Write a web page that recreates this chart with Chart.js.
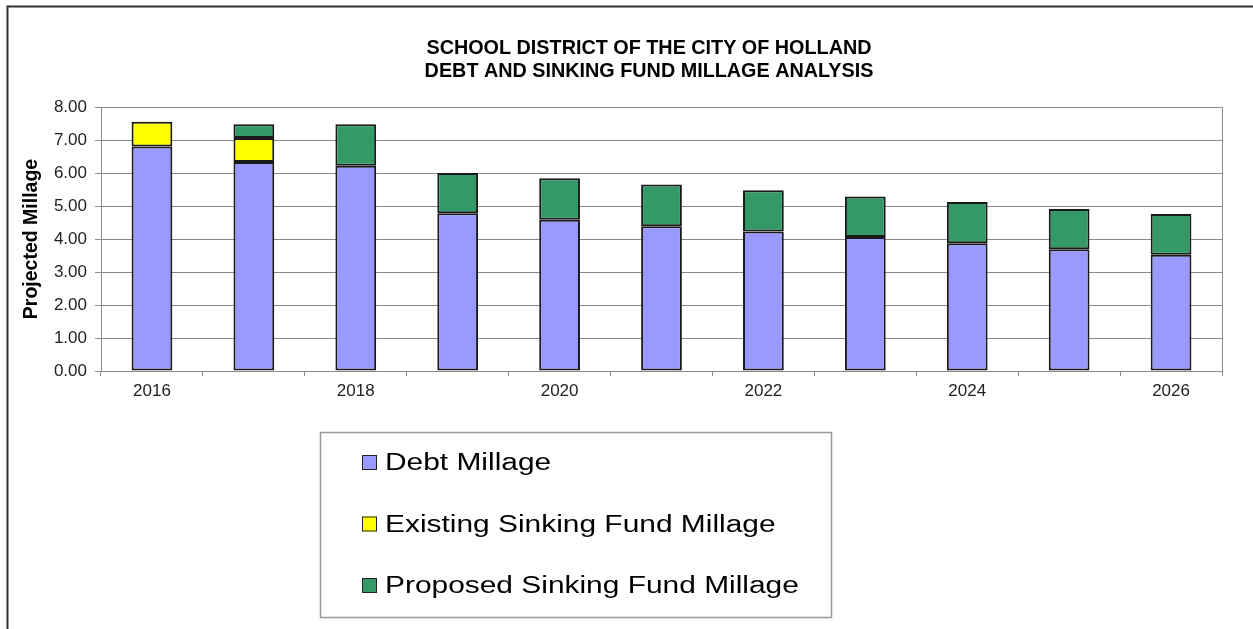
<!DOCTYPE html>
<html>
<head>
<meta charset="utf-8">
<title>Debt and Sinking Fund Millage Analysis</title>
<script src="https://cdn.jsdelivr.net/npm/chart.js@4/dist/chart.umd.min.js"></script>
<style>
  html, body { margin: 0; padding: 0; background: #fff; }
  canvas { display: block; }
</style>
</head>
<body>
<canvas id="myChart" width="1253" height="629"></canvas>
<script>
const years = ['2016', '2017', '2018', '2019', '2020', '2021', '2022', '2023', '2024', '2025', '2026']
const debtMillage = [6.80, 6.33, 6.22, 4.78, 4.58, 4.39, 4.23, 4.06, 3.87, 3.69, 3.52]
const existingSinking = [0.75, 0.73, null, null, null, null, null, null, null, null, null]
const proposedSinking = [null, 0.42, 1.26, 1.22, 1.26, 1.26, 1.25, 1.23, 1.25, 1.22, 1.24]
const yTicks = [0, 1, 2, 3, 4, 5, 6, 7, 8]
const titleLines = ['SCHOOL DISTRICT OF THE CITY OF HOLLAND', 'DEBT AND SINKING FUND MILLAGE ANALYSIS']

;(() => {
  'use strict'

  const gridGray = '#8a8a8a'

  // frame, heading, right edge of the plot and the boxed legend
  const decor = {
    id: 'decor',
    beforeDraw (chart) {
      const c = chart.ctx
      c.save()
      c.fillStyle = '#fff'
      c.fillRect(0, 0, chart.width, chart.height)
      c.restore()
    },
    afterDraw (chart) {
      const c = chart.ctx
      const area = chart.chartArea
      c.save()

      c.strokeStyle = '#333'
      c.lineWidth = 2
      c.beginPath()
      c.moveTo(7.5, chart.height)
      c.lineTo(7.5, 6.5)
      c.lineTo(chart.width, 6.5)
      c.stroke()

      c.strokeStyle = gridGray
      c.lineWidth = 1
      c.beginPath()
      c.moveTo(area.right + 0.5, area.top)
      c.lineTo(area.right + 0.5, area.bottom)
      c.stroke()

      c.fillStyle = '#000'
      c.font = 'bold 19.8px "Liberation Sans", Arial, sans-serif'
      c.textAlign = 'center'
      c.textBaseline = 'middle'
      titleLines.forEach((t, i) => c.fillText(t, 649, 49 + i * 23))

      // legend
      c.strokeStyle = '#999'
      c.lineWidth = 1.5
      c.strokeRect(320.5, 432.5, 511, 185)
      chart.data.datasets.forEach((ds, i) => {
        const cy = 463 + i * 61.5
        c.fillStyle = ds.backgroundColor
        c.fillRect(362, cy - 8, 15, 15)
        c.strokeStyle = '#222'
        c.lineWidth = 1
        c.strokeRect(362.5, cy - 7.5, 14, 14)
        c.save()
        c.translate(385, cy)
        c.scale(1.3, 1)
        c.fillStyle = '#000'
        c.font = '23px "Liberation Sans", Arial, sans-serif'
        c.textAlign = 'left'
        c.textBaseline = 'middle'
        c.fillText(ds.label, 0, 1)
        c.restore()
      })
      c.restore()
    }
  }

  const ctx = document.getElementById('myChart')
  // eslint-disable-next-line no-unused-vars
  const myChart = new Chart(ctx, {
    type: 'bar',
    data: {
      labels: years,
      datasets: [{
        label: 'Debt Millage',
        data: debtMillage,
        backgroundColor: '#9999ff'
      }, {
        label: 'Existing Sinking Fund Millage',
        data: existingSinking,
        backgroundColor: '#ffff00'
      }, {
        label: 'Proposed Sinking Fund Millage',
        data: proposedSinking,
        backgroundColor: '#339966'
      }]
    },
    options: {
      responsive: false,
      animation: false,
      devicePixelRatio: 1,
      layout: {
        padding: { left: 0, right: 31, top: 107, bottom: 0 }
      },
      datasets: {
        bar: {
          borderColor: '#1a1a1a',
          borderWidth: 2,
          borderSkipped: false,
          categoryPercentage: 1,
          barPercentage: 0.4
        }
      },
      scales: {
        x: {
          stacked: true,
          afterFit: (s) => { s.height = 258 },
          border: { color: gridGray, width: 1 },
          grid: {
            offset: true,
            drawOnChartArea: false,
            drawTicks: true,
            tickLength: 5,
            color: gridGray
          },
          ticks: {
            autoSkip: false,
            maxRotation: 0,
            padding: 5,
            color: '#222',
            font: { family: '"Liberation Sans", Arial, sans-serif', size: 17 },
            callback: (v, i) => (i % 2 === 0 ? years[i] : '')
          }
        },
        y: {
          stacked: true,
          min: yTicks[0],
          max: yTicks[yTicks.length - 1],
          afterFit: (s) => { s.width = 101 },
          afterBuildTicks: (s) => { s.ticks = yTicks.map(v => ({ value: v })) },
          border: { color: gridGray, width: 1 },
          grid: {
            color: gridGray,
            tickLength: 6
          },
          ticks: {
            padding: 8,
            color: '#222',
            font: { family: '"Liberation Sans", Arial, sans-serif', size: 17 },
            callback: (v) => Number(v).toFixed(2)
          },
          title: {
            display: true,
            text: 'Projected Millage',
            color: '#000',
            padding: { top: 20, bottom: 0 },
            font: { family: '"Liberation Sans", Arial, sans-serif', size: 19.5, weight: 'bold' }
          }
        }
      },
      plugins: {
        legend: { display: false },
        title: { display: false },
        tooltip: { enabled: false }
      }
    },
    plugins: [decor]
  })
})()
</script>
</body>
</html>
